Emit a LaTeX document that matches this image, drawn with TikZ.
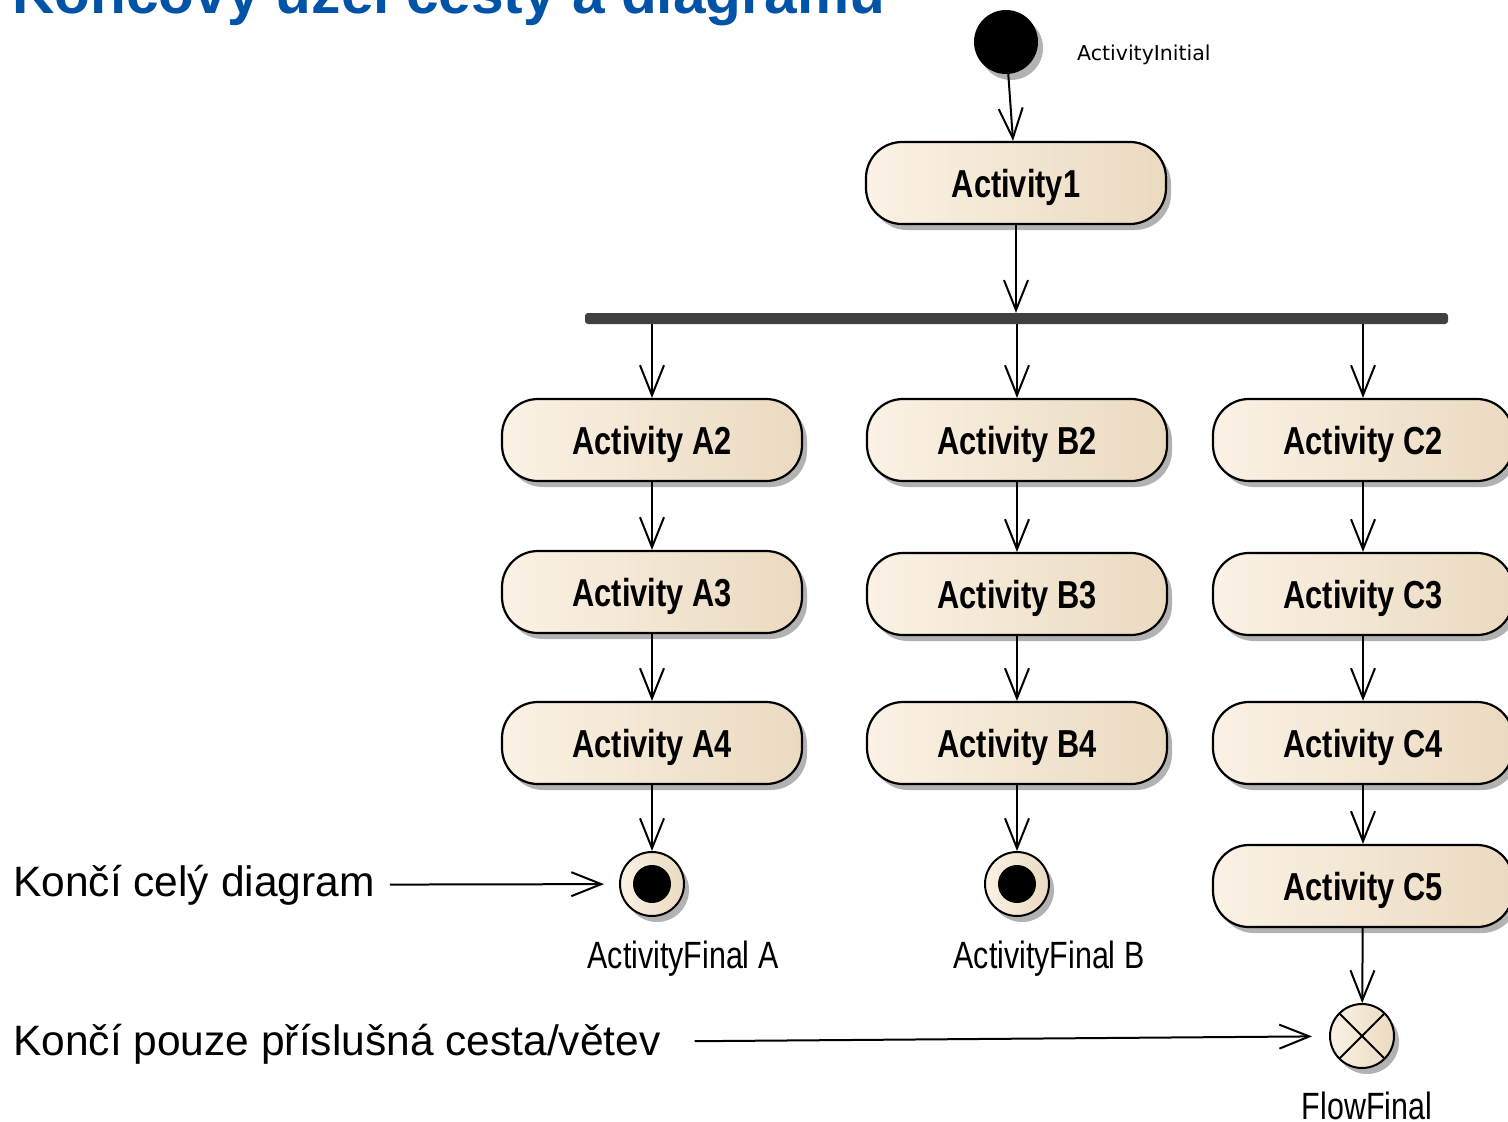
\documentclass[tikz,border=0pt]{standalone}
\usepackage{fontspec}
\setmainfont{Liberation Sans}
\newfontfamily\actfont[FakeStretch=0.79]{Liberation Sans}
\newfontfamily\lblfont[FakeStretch=0.8]{Liberation Sans}
\newfontfamily\initfont{DejaVu Sans}
\usetikzlibrary{arrows.meta,shadows}

\definecolor{actL}{RGB}{251,242,229}
\definecolor{actR}{RGB}{234,218,192}
\definecolor{forkgray}{RGB}{64,64,64}
\definecolor{titleblue}{RGB}{0,83,166}

\tikzset{
  shade/.style={drop shadow={shadow xshift=5pt,shadow yshift=-6pt,fill=black!30,opacity=1}},
  act/.style={draw=black,line width=2.2pt,rounded corners=36pt,minimum width=300pt,
    minimum height=82pt,text depth=0pt,left color=actL,middle color=actL,right color=actR,shade,
    font=\actfont\bfseries\fontsize{39}{44}\selectfont},
  initnode/.style={circle,fill=black,minimum size=64pt,inner sep=0,shade},
  finalnode/.style={circle,draw=black,line width=2pt,minimum size=64pt,inner sep=0,
    left color=actL,middle color=actL,right color=actR,shade,
    path picture={\fill[black] (path picture bounding box.center) circle[radius=19pt];}},
  flowend/.style={circle,draw=black,line width=2pt,minimum size=64pt,inner sep=0,
    left color=actL,middle color=actL,right color=actR,shade,
    path picture={\draw[line width=2pt] (path picture bounding box.north west) -- (path picture bounding box.south east)
      (path picture bounding box.north east) -- (path picture bounding box.south west);}},
  forkbar/.style={fill=forkgray,minimum width=863pt,minimum height=11pt,inner sep=0,rounded corners=3pt},
  flow/.style={-{Straight Barb[length=30pt,width=24pt]},line width=2pt},
  lbl/.style={font=\lblfont\fontsize{38}{44}\selectfont,inner sep=0},
  note/.style={font=\fontsize{42.5}{48}\selectfont,inner sep=0},
}

\begin{document}
\begin{tikzpicture}[x=1pt,y=-1pt]
  \useasboundingbox (0,0) rectangle (1508,1122);

  \node[anchor=base west,inner sep=0,text=titleblue,font=\bfseries\fontsize{58.6}{64}\selectfont] (title) at (12, 13) {Koncový uzel cesty a diagramu};

  \node[initnode] (init) at (1006, 42) {};
  \node[anchor=base west,inner sep=0,font=\initfont\fontsize{20.5}{24}\selectfont] (initlbl) at (1077, 60) {ActivityInitial};
  \node[act] (act1) at (1016, 183) {Activity1};
  \node[forkbar] (fork) at (1016.5, 318.5) {};

  \node[act] (a2) at (652, 440) {Activity A2};
  \node[act] (a3) at (652, 592) {Activity A3};
  \node[act] (a4) at (652, 743) {Activity A4};
  \node[finalnode] (fA) at (652, 884) {};
  \node[lbl,anchor=base] (fAlbl) at (683, 968) {ActivityFinal A};

  \node[act] (b2) at (1017, 440) {Activity B2};
  \node[act] (b3) at (1017, 594) {Activity B3};
  \node[act] (b4) at (1017, 743) {Activity B4};
  \node[finalnode] (fB) at (1017, 884) {};
  \node[lbl,anchor=base] (fBlbl) at (1049, 968) {ActivityFinal B};

  \node[act] (c2) at (1363, 440) {Activity C2};
  \node[act] (c3) at (1363, 594) {Activity C3};
  \node[act] (c4) at (1363, 743) {Activity C4};
  \node[act] (c5) at (1363, 886) {Activity C5};
  \node[flowend] (fF) at (1362, 1036) {};
  \node[lbl,anchor=base] (fFlbl) at (1367, 1119) {FlowFinal};

  \node[note,anchor=west] (noteA) at (13, 885) {Končí celý diagram};
  \node[note,anchor=west] (noteB) at (13, 1044) {Končí pouze příslušná cesta/větev};

  % control flows
  \path (init) edge[flow] (act1);
  \path (act1) edge[flow] (act1 |- fork.north);
  \path (fork.south -| a2) edge[flow] (a2);
  \path (fork.south -| b2) edge[flow] (b2);
  \path (fork.south -| c2) edge[flow] (c2);
  \path (a2) edge[flow] (a3);
  \path (a3) edge[flow] (a4);
  \path (a4) edge[flow] (fA);
  \path (b2) edge[flow] (b3);
  \path (b3) edge[flow] (b4);
  \path (b4) edge[flow] (fB);
  \path (c2) edge[flow] (c3);
  \path (c3) edge[flow] (c4);
  \path (c4) edge[flow] (c5);
  \path (c5) edge[flow] (fF);

  % notes
  \path (noteA) edge[flow,shorten <=15pt,shorten >=15pt] (fA);
  \path (noteB) edge[flow,shorten <=34pt,shorten >=17pt] (fF);
\end{tikzpicture}
\end{document}
